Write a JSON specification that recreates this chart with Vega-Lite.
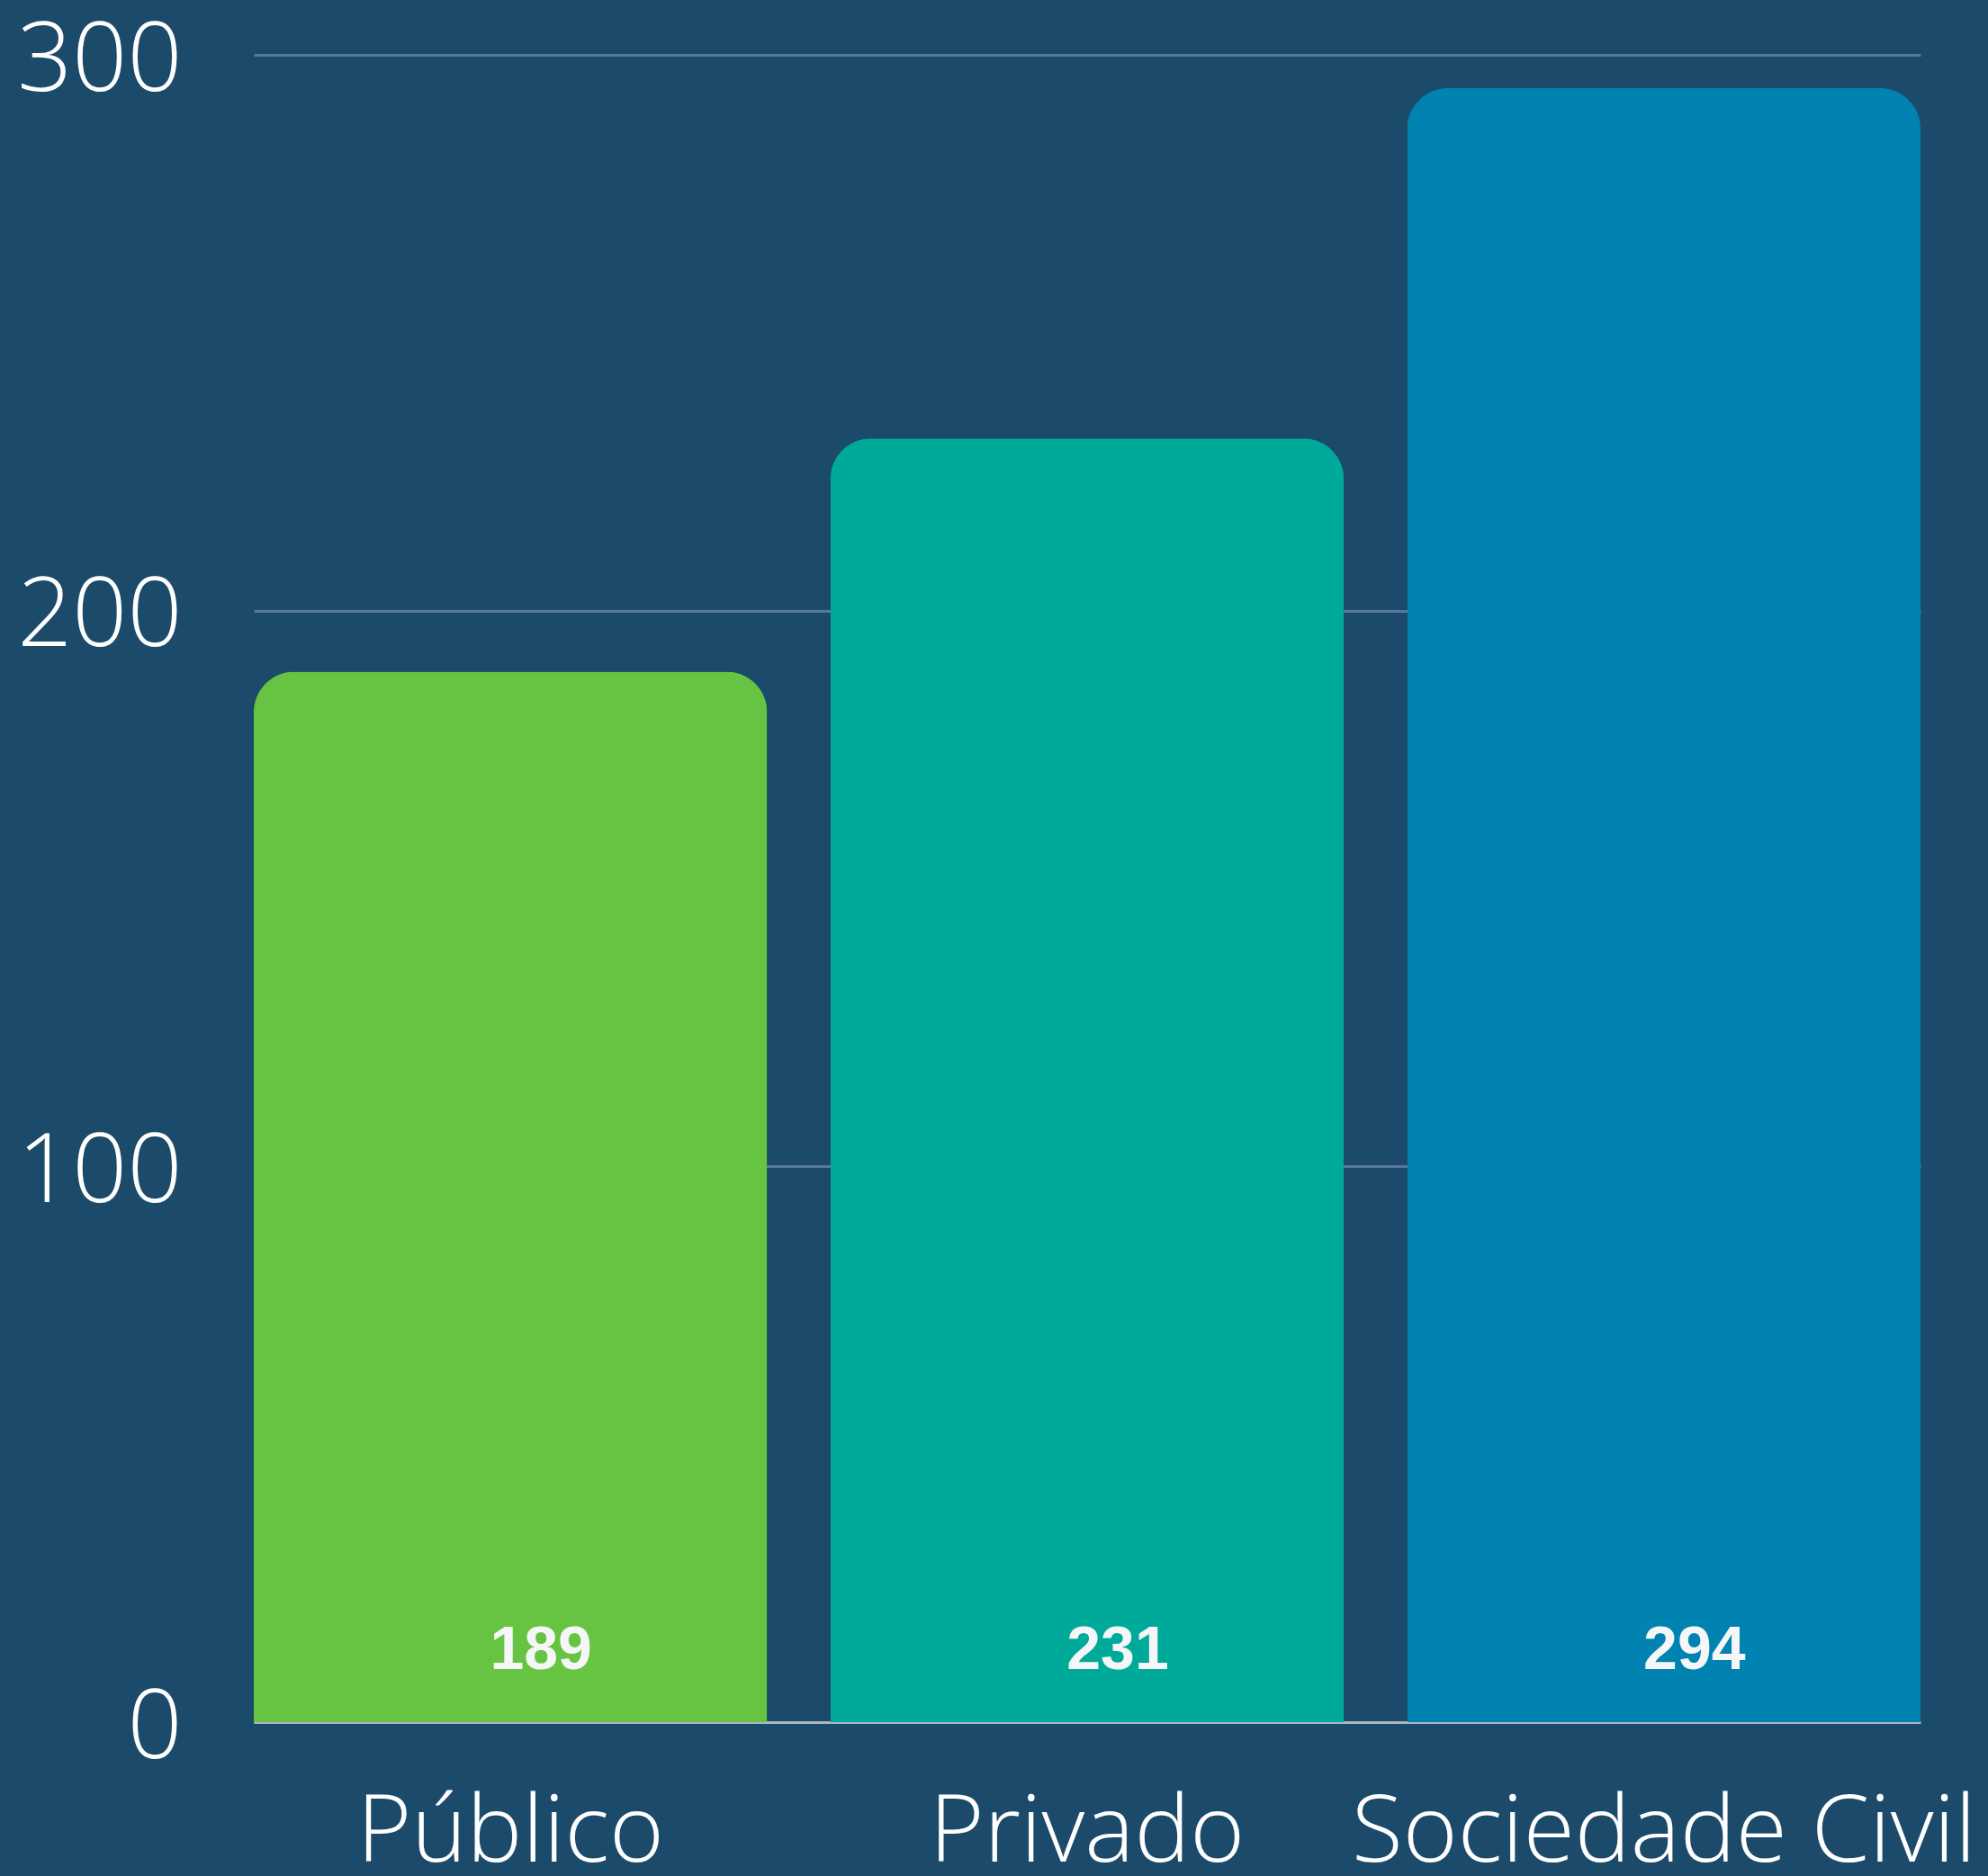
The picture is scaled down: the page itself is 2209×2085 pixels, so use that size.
{
  "$schema": "https://vega.github.io/schema/vega-lite/v6.json",
  "autosize": "none",
  "width": 1852,
  "height": 1853,
  "padding": {"left": 282, "top": 61, "right": 75, "bottom": 171},
  "background": "#1b4a6b",
  "config": {"view": {"stroke": null}},
  "data": {"values": [
    {"setor": "Público", "valor": 189},
    {"setor": "Privado", "valor": 231},
    {"setor": "Sociedade Civil", "valor": 294}
  ]},
  "encoding": {
    "x": {
      "field": "setor", "type": "nominal", "sort": null,
      "scale": {"paddingInner": 0.11, "paddingOuter": 0},
      "axis": {
        "title": null, "labelAngle": 0, "ticks": false, "grid": false,
        "domain": true, "domainColor": "#a9b6c4", "domainWidth": 3,
        "labelFont": "Open Sans", "labelFontWeight": 300, "labelFontSize": 104,
        "labelColor": "#ffffff", "labelBaseline": "alphabetic", "labelPadding": 154,
        "labelLimit": 0, "labelOverlap": false
      }
    }
  },
  "layer": [
    {
      "mark": {"type": "bar", "cornerRadiusTopLeft": 45, "cornerRadiusTopRight": 45},
      "encoding": {
        "y": {
          "field": "valor", "type": "quantitative",
          "scale": {"domain": [0, 300], "nice": false},
          "axis": {
            "title": null, "values": [0, 100, 200, 300], "ticks": false, "domain": false,
            "grid": true, "gridColor": "#56789a", "gridWidth": 3,
            "labelFont": "Open Sans", "labelFontWeight": 300, "labelFontSize": 107,
            "labelColor": "#ffffff", "labelPadding": 80, "labelBaseline": "middle", "labelOffset": 7,
            "labelLimit": 0, "labelOverlap": false
          }
        },
        "color": {
          "field": "setor", "type": "nominal", "legend": null,
          "scale": {"domain": ["Público", "Privado", "Sociedade Civil"], "range": ["#67c443", "#00aa9a", "#0083b1"]}
        }
      }
    },
    {
      "mark": {"type": "text", "font": "Liberation Sans", "fontWeight": "bold", "fontSize": 68, "color": "#f5f6f8", "baseline": "middle", "align": "center", "dy": -79, "dx": 34},
      "encoding": {
        "y": {"datum": 0, "type": "quantitative"},
        "text": {"field": "valor", "type": "quantitative"}
      }
    }
  ]
}
